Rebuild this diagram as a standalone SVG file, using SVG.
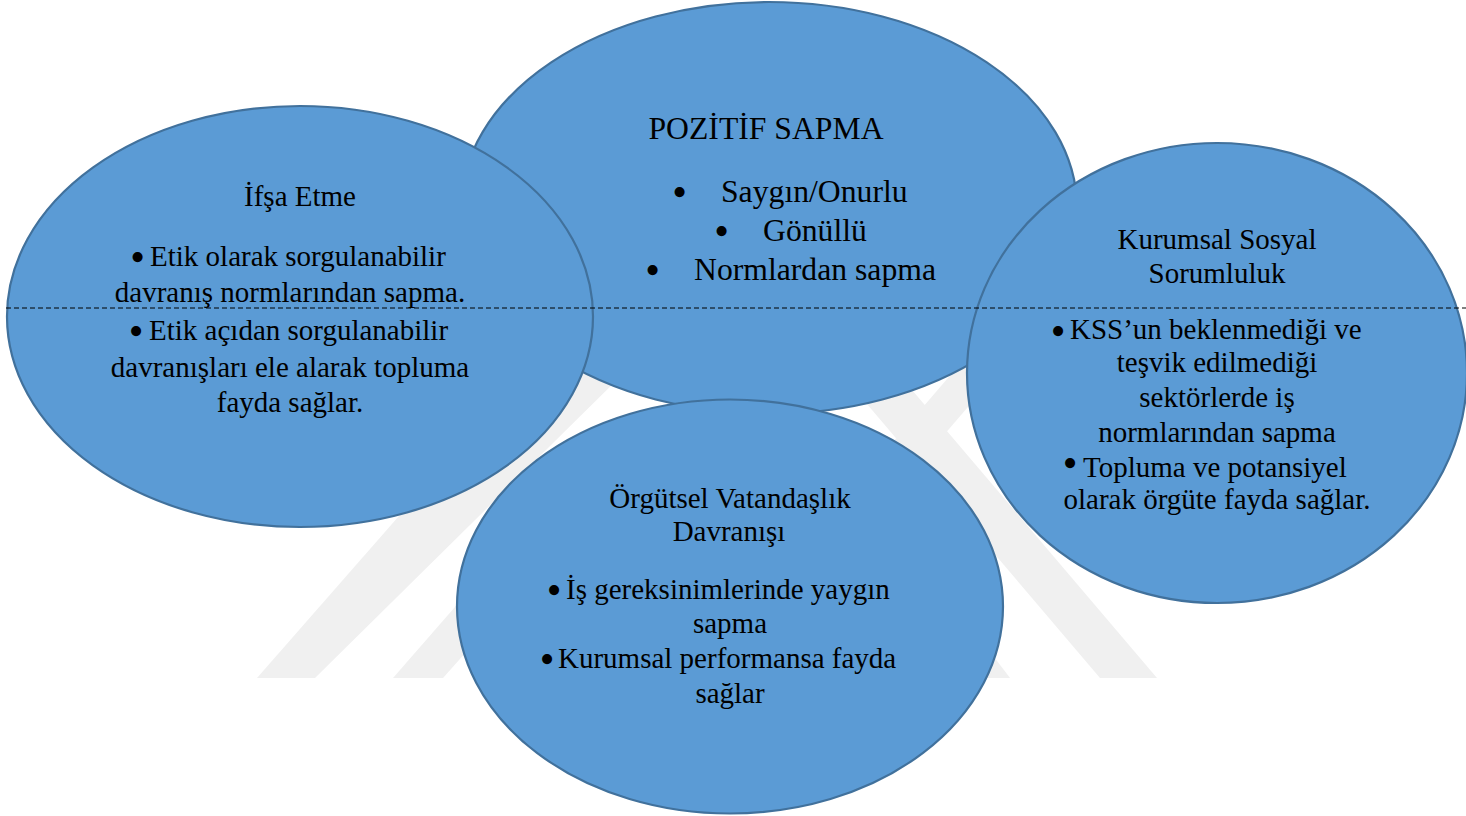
<svg xmlns="http://www.w3.org/2000/svg" width="1466" height="816" viewBox="0 0 1466 816">
<style>
.bg{fill:#ffffff}
.wm{fill:#f0f0f0}
.oval{fill:#5B9BD5;stroke:#41719C;stroke-width:2.2}
.t{font-family:"Liberation Serif","Times New Roman",serif;font-size:29px;fill:#000000;text-anchor:middle}
.ts{font-family:"Liberation Serif","Times New Roman",serif;font-size:29px;fill:#000000}
.tb{font-family:"Liberation Serif","Times New Roman",serif;font-size:31.7px;fill:#000000}
.bul{font-family:"Liberation Serif","Times New Roman",serif;font-size:42px;fill:#000000;text-anchor:middle}
.div{stroke:#000000;stroke-width:1;stroke-dasharray:5 3;fill:none}
</style>
<rect class="bg" x="0" y="0" width="1466" height="816"/>
<g id="watermark">
<polygon class="wm" points="257,678 315,678 708,290 597,290"/>
<polygon class="wm" points="393,678 443,678 548,560 496,560"/>
<polygon class="wm" points="1100,678 1157,678 861,330 804,330"/>
<polygon class="wm" points="955,678 1010,678 920,560 865,560"/>
<polygon class="wm" points="690,678 735,678 1060,300 1015,300"/>
</g>
<g id="node-pozitif">
<ellipse class="oval" cx="769" cy="208" rx="308" ry="206"/>
<text class="tb" x="766" y="139" text-anchor="middle">POZİTİF SAPMA</text>
<text class="bul" x="679.5" y="206">•</text>
<text class="tb" x="721" y="202">Saygın/Onurlu</text>
<text class="bul" x="721.5" y="245">•</text>
<text class="tb" x="763" y="241">Gönüllü</text>
<text class="bul" x="652.5" y="284">•</text>
<text class="tb" x="694" y="280">Normlardan sapma</text>
</g>
<g id="node-ifsa">
<ellipse class="oval" cx="300" cy="316.5" rx="293" ry="210.5"/>
<text class="t" x="300" y="206">İfşa Etme</text>
<text class="bul" x="137.5" y="271">•</text>
<text class="ts" x="150" y="266">Etik olarak sorgulanabilir</text>
<text class="t" x="290" y="302">davranış normlarından sapma.</text>
<text class="bul" x="136" y="345">•</text>
<text class="ts" x="149" y="340">Etik açıdan sorgulanabilir</text>
<text class="t" x="290" y="377">davranışları ele alarak topluma</text>
<text class="t" x="290" y="412">fayda sağlar.</text>
</g>
<g id="node-kss">
<ellipse class="oval" cx="1217" cy="373" rx="250" ry="230"/>
<text class="t" x="1217" y="249">Kurumsal Sosyal</text>
<text class="t" x="1217" y="283">Sorumluluk</text>
<text class="bul" x="1058" y="345">•</text>
<text class="ts" x="1070" y="339">KSS’un beklenmediği ve</text>
<text class="t" x="1217" y="372">teşvik edilmediği</text>
<text class="t" x="1217" y="407">sektörlerde iş</text>
<text class="t" x="1217" y="442">normlarından sapma</text>
<text class="bul" x="1070" y="477" font-size="30">•</text>
<text class="ts" x="1083" y="477">Topluma ve potansiyel</text>
<text class="t" x="1217" y="509">olarak örgüte fayda sağlar.</text>
</g>
<g id="node-ovd">
<ellipse class="oval" cx="730" cy="606.5" rx="273" ry="207"/>
<text class="t" x="730" y="508">Örgütsel Vatandaşlık</text>
<text class="t" x="729" y="541">Davranışı</text>
<text class="bul" x="554" y="604">•</text>
<text class="ts" x="566" y="599">İş gereksinimlerinde yaygın</text>
<text class="t" x="730" y="633">sapma</text>
<text class="bul" x="547" y="673">•</text>
<text class="ts" x="558" y="668">Kurumsal performansa fayda</text>
<text class="t" x="730" y="703">sağlar</text>
</g>
<g id="connectors">
<line class="div" x1="6" y1="308" x2="1466" y2="308"/>
</g>
</svg>
